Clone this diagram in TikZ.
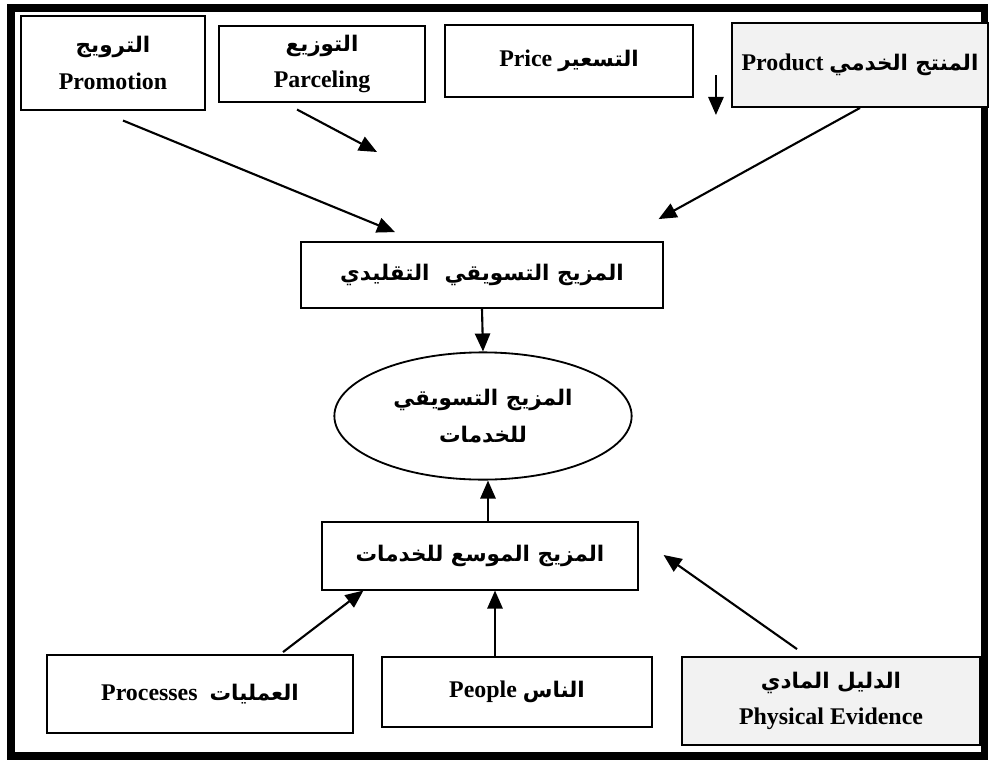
\documentclass[tikz,border=0pt]{standalone}
\usepackage{fontspec}
\setmainfont{Liberation Serif}
\newfontfamily\arabicfont[Script=Arabic, Scale=0.9]{DejaVu Sans}
\TeXXeTstate=1
\usetikzlibrary{shapes.geometric, arrows.meta, positioning, calc}
\newcommand{\artext}[1]{{\arabicfont\bfseries\beginR #1\endR}}

\begin{document}
\begin{tikzpicture}[x=0.025cm, y=-0.025cm,
    mixbox/.style={draw=black, line width=1.3pt, fill=white, align=center, inner sep=2pt,
      font=\fontsize{17}{26}\selectfont\bfseries},
    greybox/.style={mixbox, fill=gray!10},
    flow/.style={-{Triangle[length=0.45cm, width=0.38cm]}, line width=1.5pt}]
  \useasboundingbox (0,0) rectangle (990,763);

  % Frame
  \draw[line width=5pt] (11,8) rectangle (984,756);

  % Traditional mix elements
  \node[mixbox, minimum width=4.58cm, minimum height=2.33cm] (promo) at (113,63)
    {\artext{الترويج}\\Promotion};
  \node[mixbox, minimum width=5.13cm, minimum height=1.88cm] (parcel) at (322,64)
    {\artext{التوزيع}\\Parceling};
  \node[mixbox, minimum width=6.2cm, minimum height=1.8cm] (price) at (569,61)
    {Price \artext{التسعير}};
  \node[greybox, minimum width=6.38cm, minimum height=2.1cm] (product) at (860,65)
    {Product \artext{المنتج الخدمي}};

  % Centre column
  \node[mixbox, minimum width=9.03cm, minimum height=1.65cm] (trad) at (482,275)
    {\artext{المزيج التسويقي\ \ التقليدي}};
  \node[mixbox, ellipse, inner sep=0pt, minimum width=7.43cm, minimum height=3.18cm] (svcmix) at (483,416)
    {\artext{المزيج التسويقي}\\\artext{للخدمات}};
  \node[mixbox, minimum width=7.88cm, minimum height=1.68cm] (ext) at (480,556)
    {\artext{المزيج الموسع للخدمات}};

  % Extended elements
  \node[mixbox, minimum width=7.63cm, minimum height=1.95cm] (proc) at (200,694)
    {Processes\ \ \artext{العمليات}};
  \node[mixbox, minimum width=6.75cm, minimum height=1.73cm] (people) at (517,692)
    {People \artext{الناس}};
  \node[greybox, minimum width=7.45cm, minimum height=2.2cm] (phys) at (831,701)
    {\artext{الدليل المادي}\\Physical Evidence};

  % Free arrow tips
  \coordinate (parcelTip) at (377,152);

  % Arrows
  \draw[flow] ($(promo.south)+(10,10)$) -- ($(trad.north)+(-87,-9)$);
  \draw[flow] ($(parcel.south)+(-25,7)$) -- (parcelTip);
  \draw[flow] ($(price.east)+(22,14)$) -- ($(price.east)+(22,54)$);
  \draw[flow] (product.south) -- ($(trad.north east)+(-5,-22)$);
  \draw[flow] (trad.south) -- (svcmix.north);
  \draw[flow] ($(ext.north)+(8,0)$) -- ($(svcmix.south)+(5,0)$);
  \draw[flow] ($(proc.north)+(83,-2)$) -- ($(ext.south west)+(42,0)$);
  \draw[flow] ($(people.north)+(-22,0)$) -- ($(ext.south)+(15,0)$);
  \draw[flow] ($(phys.north)+(-34,-7)$) -- ($(ext.east)+(25,-1)$);
\end{tikzpicture}
\end{document}
